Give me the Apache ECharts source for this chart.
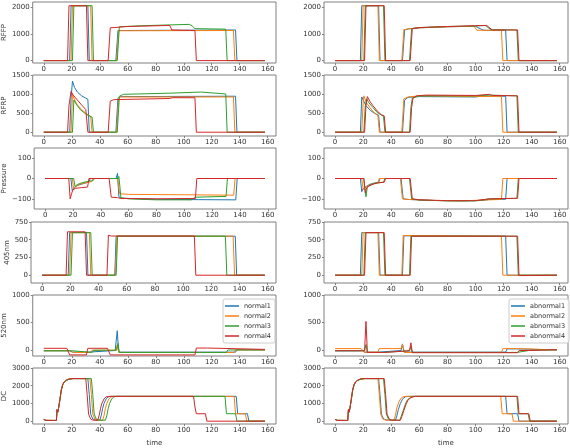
<!DOCTYPE html>
<html><head><meta charset="utf-8">
<script src="https://cdn.jsdelivr.net/npm/echarts@6/dist/echarts.min.js"></script>
<style>html,body{margin:0;padding:0;background:#fff}#c{width:570px;height:448px}</style>
</head><body><div id="c"></div>
<script>
const rowNames = ['RFFP', 'RFRP', 'Pressure', '405nm', '520nm', 'DC'];
const normalNames = ['normal1', 'normal2', 'normal3', 'normal4'];
const abnormalNames = ['abnormal1', 'abnormal2', 'abnormal3', 'abnormal4'];
const xTicks = [0, 20, 40, 60, 80, 100, 120, 140, 160];
const yTicks = [[0, 1000, 2000], [0, 500, 1000, 1500], [-100, 0, 100], [0, 250, 500, 750], [0, 500, 1000], [0, 1000, 2000, 3000]];

// ---------- normal runs (left column) ----------
const normalRFFP = [
  [[0,0],[18.5,0],[19.5,2060],[31.5,2060],[32.5,0],[51.5,0],[53,1130],[137,1150],[138,0],[158,0]],
  [[0,0],[19.5,0],[20.5,2060],[33.5,2060],[34.5,0],[52,0],[53.5,1120],[135.5,1130],[136.5,0],[158,0]],
  [[0,0],[20.5,0],[21.5,2060],[34.5,2060],[35.5,0],[52.5,0],[54,1270],[70,1310],[90,1340],[104,1360],[106,1300],[108,1200],[130,1180],[131,0],[158,0]],
  [[0,0],[17,0],[18,2060],[30.5,2060],[31.5,0],[46,0],[47.5,1230],[60,1280],[90,1320],[91.5,1150],[108,1130],[109,0],[158,0]]
];
const normalRFRP = [
  [[0,0],[18.5,0],[19.5,900],[20.5,1350],[22,1180],[24,1060],[27,960],[30,900],[31.5,870],[32.5,0],[51.5,0],[53,900],[55,940],[137,950],[138,0],[158,0]],
  [[0,0],[19.5,0],[20.5,1000],[22,850],[24,720],[27,600],[30,500],[32,450],[33.5,420],[34.5,0],[52,0],[53.5,900],[55,930],[135.5,930],[136.5,0],[158,0]],
  [[0,0],[20.5,0],[21.5,850],[23,750],[26,600],[30,480],[33,420],[34.5,400],[35.5,0],[52.5,0],[54,950],[57,1000],[90,1030],[112,1060],[130,1010],[131,0],[158,0]],
  [[0,0],[17,0],[18,700],[19.5,1080],[21,980],[24,850],[27,720],[30,600],[30.5,580],[31.5,0],[46,0],[47.5,820],[50,860],[90,890],[92,910],[108,910],[109,0],[158,0]]
];
const normalPressure = [
  [[0,0],[18.5,0],[19.5,-60],[21,-45],[23,-35],[26,-28],[30,-20],[31.5,-15],[32.5,0],[51,0],[52,25],[53,-90],[55,-97],[80,-102],[110,-104],[137,-105],[138,0],[158,0]],
  [[0,0],[19.5,0],[20.5,-50],[22,-40],[25,-28],[30,-20],[33.5,-15],[34.5,0],[52,0],[53.5,-75],[60,-78],[100,-80],[135.5,-82],[136.5,0],[158,0]],
  [[0,0],[20.5,0],[21.5,-40],[23,-30],[26,-22],[30,-15],[34.5,-10],[35.5,0],[52.5,0],[53,10],[54.5,-95],[60,-100],[80,-105],[105,-105],[108,-92],[130,-88],[131,0],[158,0]],
  [[0,0],[17,0],[18,-100],[19,-75],[20,-55],[22,-48],[26,-45],[30.5,-42],[31.5,0],[46,0],[47.5,-92],[52,-94],[54,-98],[80,-100],[108,-98],[109,0],[158,0]]
];
const normal405 = [
  [[0,0],[18.5,0],[19.5,600],[31.5,600],[32.5,0],[51.5,0],[52.5,550],[137,550],[138,0],[158,0]],
  [[0,0],[19.5,0],[20.5,600],[33.5,600],[34.5,0],[52,0],[53,550],[135.5,550],[136.5,0],[158,0]],
  [[0,0],[20.5,0],[21.5,600],[34.5,600],[35.5,0],[52.5,0],[53.5,550],[130,550],[131,0],[158,0]],
  [[0,0],[17,0],[18,612],[30.5,612],[31.5,0],[46,0],[47,565],[49,552],[108,552],[109,0],[158,0]]
];
const normal520 = [
  [[0,-15],[18.5,-15],[19.5,10],[20.5,-40],[31.5,-40],[32.5,-10],[51,-10],[52.5,350],[53.5,-40],[137,-40],[138,5],[158,5]],
  [[0,-15],[19.5,-15],[21,-45],[33.5,-45],[34.5,-5],[51.5,-5],[52.5,90],[53.5,-45],[136,-45],[137,0],[158,0]],
  [[0,-15],[20.5,-15],[21.5,-45],[34.5,-45],[35.5,-5],[52,-5],[53,120],[54,-45],[130.5,-45],[131.5,0],[158,0]],
  [[0,30],[16.5,30],[17.5,65],[18.5,-90],[30.5,-90],[31.5,30],[45.5,30],[46.5,65],[47.5,-90],[108,-90],[109,35],[117,35],[118,10],[158,10]]
];
const normalDC = [
  [[0,100],[1.5,45],[9,40],[9.5,650],[10,500],[10.5,700],[11.5,1200],[12.5,1750],[13.5,2050],[14.5,2200],[16,2300],[18,2370],[21,2400],[31.5,2400],[32.5,1500],[33.5,400],[35,120],[37,60],[40,50],[41,300],[42,700],[43,1000],[44.5,1250],[46,1370],[48,1400],[137.5,1400],[138.5,420],[145.5,420],[146.5,0],[158,0]],
  [[0,100],[1.5,45],[9,40],[9.5,640],[10,520],[10.5,700],[11.5,1220],[12.5,1760],[13.5,2060],[14.5,2210],[16,2300],[18,2380],[21,2400],[33,2400],[34,1500],[35,400],[36.5,120],[38.5,60],[42,50],[43,300],[44,700],[45,1000],[46.5,1250],[48,1370],[50,1400],[136,1400],[137,420],[144,420],[145,0],[158,0]],
  [[0,100],[1.5,45],[9,40],[9.5,630],[10,510],[10.5,690],[11.5,1180],[12.5,1720],[13.5,2030],[14.5,2190],[16,2290],[18,2360],[21,2400],[34,2400],[35,1500],[36,400],[37.5,120],[39.5,60],[44,50],[45,300],[46,700],[47,1000],[48.5,1250],[50,1370],[52,1400],[129.5,1400],[130.5,420],[137,420],[138,0],[158,0]],
  [[0,100],[1.5,45],[9,40],[9.5,660],[10,520],[10.5,710],[11.5,1210],[12.5,1760],[13.5,2060],[14.5,2210],[16,2310],[18,2380],[21,2410],[30,2400],[31,1500],[32,400],[33.5,120],[35,60],[38.5,50],[39.5,300],[40.5,700],[41.5,1000],[43,1250],[44.5,1370],[46.5,1400],[107,1400],[108,800],[109,420],[115.5,420],[116.5,0],[158,0]]
];

// ---------- abnormal runs (right column) ----------
const abnormalRFFP = [
  [[0,0],[18,0],[19,2060],[31,2060],[32,0],[48,0],[49.5,1150],[52,1190],[60,1230],[80,1270],[100,1290],[104,1180],[106,1140],[121.5,1140],[122.5,0],[158,0]],
  [[0,0],[19,0],[20,2060],[30.5,2060],[31.5,0],[47.5,0],[49,1160],[52,1190],[60,1230],[80,1270],[99,1290],[101,1140],[118.5,1130],[119.5,0],[158,0]],
  [[0,0],[20.5,0],[21.5,2060],[34.5,2060],[35.5,0],[53,0],[54.5,1200],[60,1240],[80,1280],[100,1300],[107,1320],[111,1160],[129.5,1150],[130.5,0],[158,0]],
  [[0,0],[21,0],[22,2060],[35,2060],[36,0],[53.5,0],[55,1200],[60,1240],[80,1280],[100,1310],[108,1320],[112,1150],[130,1150],[131,0],[158,0]]
];
const abnormalRFRP = [
  [[0,0],[18,0],[19,930],[20,850],[22,700],[25,580],[28,500],[31,450],[32,0],[48,0],[49.5,850],[52,920],[60,940],[100,930],[103,950],[121.5,950],[122.5,0],[158,0]],
  [[0,0],[19,0],[20,800],[20.5,960],[22,800],[25,640],[28,510],[30.5,440],[31.5,0],[47.5,0],[49,880],[52,930],[60,960],[100,940],[118.5,950],[119.5,0],[158,0]],
  [[0,0],[20.5,0],[21.5,700],[22.5,880],[24,780],[27,650],[30,520],[34.5,420],[35.5,0],[53,0],[54,650],[55,900],[60,960],[100,960],[110,980],[129.5,960],[130.5,0],[158,0]],
  [[0,0],[21,0],[22,700],[23,940],[25,800],[27,700],[30,560],[33,460],[35,430],[36,0],[53.5,0],[54.5,650],[55.5,900],[58,960],[65,980],[100,970],[110,1000],[112,970],[130,960],[131,0],[158,0]]
];
const abnormalPressure = [
  [[0,0],[18,0],[19,-65],[20,-50],[22,-40],[25,-28],[28,-22],[31,-20],[32,0],[47,0],[48.5,-100],[52,-103],[70,-108],[90,-110],[105,-108],[110,-103],[121.5,-102],[122.5,0],[158,0]],
  [[0,0],[19,0],[20,-55],[21,-45],[23,-38],[26,-28],[30.5,-20],[31.5,0],[46.5,0],[48,-100],[52,-103],[70,-108],[90,-110],[105,-106],[118.5,-103],[119.5,0],[158,0]],
  [[0,0],[20.5,0],[21,-40],[22,-90],[23,-40],[25,-32],[28,-24],[32,-20],[34.5,-18],[35.5,0],[53,0],[54.5,-100],[60,-106],[80,-110],[100,-110],[110,-100],[129.5,-98],[130.5,0],[158,0]],
  [[0,0],[20.5,0],[21.5,-70],[22.5,-45],[24,-38],[27,-28],[30,-22],[35,-18],[36,0],[53.5,0],[55,-100],[60,-105],[80,-109],[100,-109],[110,-100],[130,-97],[131,0],[158,0]]
];
const abnormal405 = [
  [[0,0],[18,0],[19,600],[31,600],[32,0],[48,0],[49,555],[121.5,550],[122.5,0],[158,0]],
  [[0,0],[19,0],[20,600],[30.5,600],[31.5,0],[47.5,0],[48.5,560],[118.5,550],[119.5,0],[158,0]],
  [[0,0],[20.5,0],[21.5,600],[34.5,600],[35.5,0],[53,0],[54,550],[129.5,550],[130.5,0],[158,0]],
  [[0,0],[21,0],[22,600],[35,600],[36,0],[53.5,0],[54.5,550],[130,550],[131,-5],[138,-5],[139,0],[158,0]]
];
const abnormal520 = [
  [[0,-15],[18,-15],[19.5,-10],[21,-40],[31,-40],[32,-10],[47,-10],[48,110],[49,-40],[121.5,-40],[122.5,20],[129,20],[130,0],[158,0]],
  [[0,25],[18.5,25],[19.5,60],[20.5,-40],[30.5,-40],[31.5,25],[47,25],[48,100],[49.5,-45],[118.5,-45],[119.5,25],[130,25],[131,0],[158,0]],
  [[0,-15],[21,-15],[22,100],[23,-45],[35,-45],[36,-15],[53,-15],[54,60],[55,-45],[129.5,-45],[130.5,-10],[138,-10],[139,5],[158,5]],
  [[0,-15],[21,-15],[22,520],[23,-45],[35,-45],[36,-15],[53,-15],[54,130],[55,-50],[130,-50],[131,-10],[138,-10],[139,5],[158,5]]
];
const abnormalDC = [
  [[0,100],[1.5,45],[9,40],[9.5,650],[10,500],[10.5,700],[11.5,1200],[12.5,1750],[13.5,2050],[14.5,2200],[16,2300],[18,2370],[21,2400],[31,2400],[32,1500],[33,400],[34.5,120],[37,60],[43,50],[44,300],[45,650],[46.5,1000],[48,1250],[50,1370],[52,1400],[121.5,1400],[122.5,420],[130,420],[131,0],[158,0]],
  [[0,100],[1.5,45],[9,40],[9.5,640],[10,520],[10.5,700],[11.5,1220],[12.5,1760],[13.5,2060],[14.5,2210],[16,2300],[18,2380],[21,2400],[30.5,2400],[31.5,1500],[32.5,400],[34,120],[36,60],[42,50],[43,350],[44,750],[45.5,1100],[47,1300],[49,1390],[51,1400],[118,1400],[119,420],[126,420],[127,0],[158,0]],
  [[0,100],[1.5,45],[9,40],[9.5,630],[10,510],[10.5,690],[11.5,1180],[12.5,1720],[13.5,2030],[14.5,2190],[16,2290],[18,2360],[21,2400],[34.5,2400],[35.5,1500],[36.5,400],[38,120],[40,60],[46,50],[47,250],[48.5,600],[50,950],[51.5,1200],[53.5,1330],[56,1400],[129.5,1400],[130.5,420],[137.5,420],[138.5,0],[158,0]],
  [[0,100],[1.5,45],[9,40],[9.5,660],[10,520],[10.5,710],[11.5,1210],[12.5,1760],[13.5,2060],[14.5,2210],[16,2310],[18,2380],[21,2410],[35,2400],[36,1500],[37,400],[38.5,120],[40.5,60],[46.5,50],[47.5,250],[49,600],[50.5,950],[52,1200],[54,1330],[57,1400],[130,1400],[131,420],[138,420],[139,0],[158,0]]
];

const panels = [
  [normalRFFP, abnormalRFFP],
  [normalRFRP, abnormalRFRP],
  [normalPressure, abnormalPressure],
  [normal405, abnormal405],
  [normal520, abnormal520],
  [normalDC, abnormalDC]
];

// ---------- layout / style ----------
const colors = ['#1f77b4', '#ff7f0e', '#2ca02c', '#d62728'];
const FONT = 'DejaVu Sans';
const yRange = [[-90, 2200], [-100, 1510], [-150, 150], [-110, 750], [-110, 1000], [-160, 3000]];
const rowTop = [2, 75, 148, 222, 295, 368];
const colLeft = [31, 324];
const colWidth = [245, 244];
const rowH = 61;

const fmt = v => (v < 0 ? '\u2212' + Math.abs(v) : String(v));
const txt = {fontSize: 7, fontFamily: FONT, color: '#333'};

const grids = [], xAxes = [], yAxes = [], series = [];
let idx = 0;
for (let r = 0; r < 6; r++) {
  for (let c = 0; c < 2; c++) {
    grids.push({left: colLeft[c], top: rowTop[r], width: colWidth[c], height: rowH,
      show: true, borderColor: '#808080', borderWidth: 1, backgroundColor: 'transparent'});
    const xa = {type: 'value', gridIndex: idx, min: -7.9, max: 165.9, position: 'bottom',
      axisLine: {show: false, onZero: false}, splitLine: {show: false}, axisPointer: {show: false},
      axisTick: {show: true, length: 2, customValues: xTicks, lineStyle: {color: '#808080'}},
      axisLabel: Object.assign({customValues: xTicks, margin: 3, formatter: fmt}, txt)};
    if (r === 5) Object.assign(xa, {name: 'time', nameLocation: 'middle', nameGap: 16, nameTextStyle: txt});
    xAxes.push(xa);
    const ya = {type: 'value', gridIndex: idx, min: yRange[r][0], max: yRange[r][1], position: 'left',
      axisLine: {show: false, onZero: false}, splitLine: {show: false}, axisPointer: {show: false},
      axisTick: {show: true, length: 2, customValues: yTicks[r], lineStyle: {color: '#808080'}},
      axisLabel: Object.assign({customValues: yTicks[r], margin: 3, formatter: fmt}, txt)};
    if (c === 0) Object.assign(ya, {name: rowNames[r], nameLocation: 'middle', nameRotate: 90, nameGap: 20, nameTextStyle: txt});
    yAxes.push(ya);
    const names = c === 0 ? normalNames : abnormalNames;
    panels[r][c].forEach((data, k) => {
      series.push({type: 'line', name: names[k], xAxisIndex: idx, yAxisIndex: idx,
        data: data, showSymbol: false, symbol: 'none', color: colors[k],
        lineStyle: {width: 1, color: colors[k]}, animation: false, silent: true});
    });
    idx++;
  }
}

const legendBase = {orient: 'vertical', itemGap: 2, itemWidth: 14, itemHeight: 1.5, icon: 'rect',
  padding: [3, 4, 3, 2], borderColor: '#ccc', borderWidth: 1, borderRadius: 2,
  backgroundColor: 'rgba(255,255,255,0.85)', selectedMode: false,
  textStyle: {fontSize: 6.5, fontFamily: FONT, color: '#333', lineHeight: 8}};

const chart = echarts.init(document.getElementById('c'), null, {renderer: 'canvas'});
chart.setOption({
  backgroundColor: '#fff',
  animation: false,
  grid: grids,
  xAxis: xAxes,
  yAxis: yAxes,
  legend: [
    Object.assign({}, legendBase, {data: normalNames, left: 223, top: 299}),
    Object.assign({}, legendBase, {data: abnormalNames, left: 509, top: 299})
  ],
  series: series
});
</script></body></html>
